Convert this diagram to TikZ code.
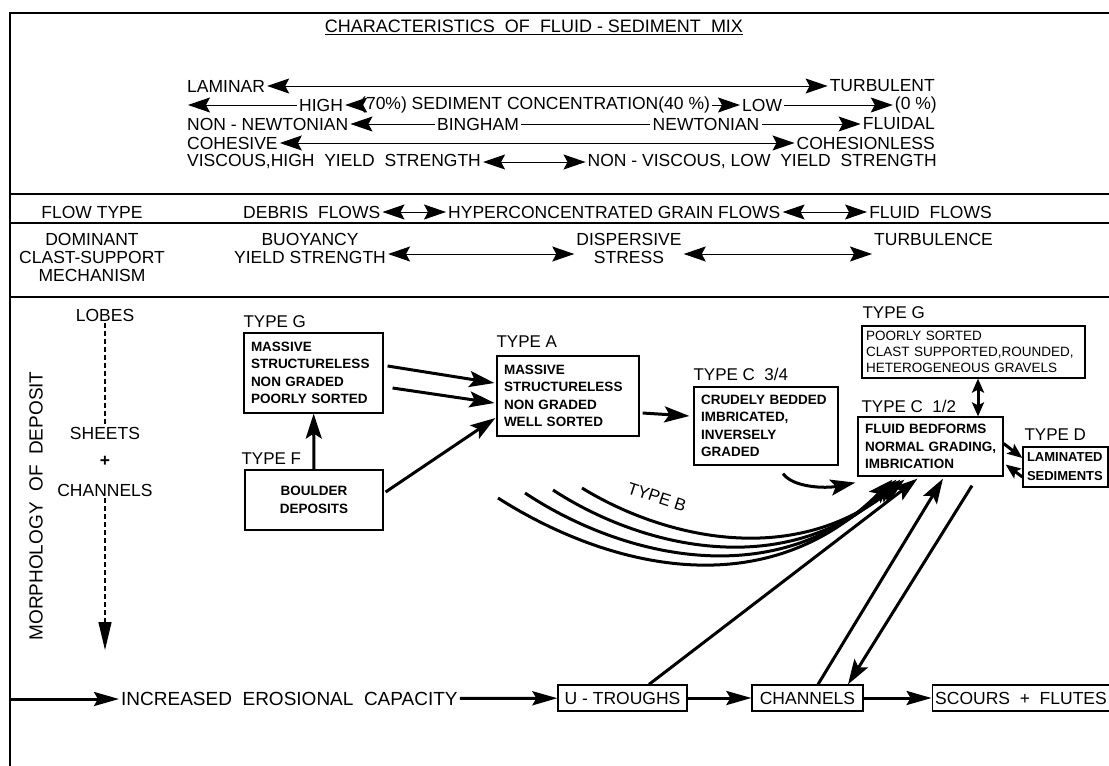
\documentclass[tikz,border=0pt]{standalone}
\usepackage{fontspec}
\setmainfont{Liberation Sans}
\usetikzlibrary{positioning, calc, arrows.meta}
\hyphenpenalty=10000
\exhyphenpenalty=10000

\begin{document}
\begin{tikzpicture}[
    x=1pt, y=-1pt,
    txt/.style={
        font=\fontsize{17.5}{18}\selectfont,
        inner sep=2pt
    },
    typelbl/.style={
        font=\fontsize{17}{18}\selectfont,
        inner sep=0pt,
        anchor=base west
    },
    depbox/.style={
        draw,
        line width=1.2pt,
        font=\bfseries\fontsize{13.5}{17.5}\selectfont,
        align=left,
        inner xsep=7pt
    },
    erobox/.style={
        draw,
        line width=1.2pt,
        font=\fontsize{17.5}{18}\selectfont,
        minimum height=26pt,
        inner xsep=3pt
    },
    thinarr/.style={
        -{Stealth[length=22pt, width=15pt, inset=4pt]},
        line width=1pt
    },
    bothways/.style={
        {Stealth[length=22pt, width=15pt, inset=4pt]}-{Stealth[length=22pt, width=15pt, inset=4pt]},
        line width=1pt
    },
    heavy/.style={
        -{Stealth[length=25pt, width=16pt, inset=5pt]},
        line width=3pt
    },
    shortheavy/.style={
        -{Stealth[length=15pt, width=12pt, inset=3pt]},
        line width=3pt
    },
    heavyboth/.style={
        {Stealth[length=14pt, width=12pt, inset=3pt]}-{Stealth[length=14pt, width=12pt, inset=3pt]},
        line width=3pt
    },
    erosarr/.style={
        -{Stealth[length=25pt, width=14pt, inset=4pt]},
        line width=3pt
    },
    dashline/.style={
        dash pattern=on 5pt off 3pt,
        line width=1.2pt
    },
    dasharr/.style={
        dashline,
        -{Triangle[length=28pt, width=13pt]}
    }
]
\useasboundingbox (0,0) rectangle (1109,766);

% Frame and section rules
\draw[line width=2pt] (1109,13) -- (10,13) -- (10,766);
\foreach \yy in {194,223,297}
    \draw[line width=1.5pt] (10,\yy) -- (1109,\yy);

% Characteristics of the mix
\node[txt, font=\fontsize{18}{18}\selectfont] (title) at (534,27)
    {\underline{CHARACTERISTICS~~OF~~FLUID - SEDIMENT~~MIX}};

\node[txt, anchor=west] (laminar) at (185,86) {LAMINAR};
\node[txt, anchor=east] (turbulent) at (937,86) {TURBULENT};
\draw[bothways] (laminar) -- (turbulent);

\coordinate (hightip) at (188,105);
\node[txt, anchor=west] (high) at (297,105) {HIGH};
\node[txt, anchor=west] (conc) at (358,105) {(70\%) SEDIMENT CONCENTRATION(40~\%)};
\node[txt, anchor=west] (low) at (740,105) {LOW};
\node[txt, anchor=east] (zero) at (939,105) {(0~\%)};
\draw[thinarr] (high) -- (hightip);
\draw[thinarr] (conc) -- (high);
\draw[thinarr] (conc) -- (low);
\draw[thinarr] (low) -- (zero);

\node[txt, anchor=west] (nonnewt) at (185,124) {NON - NEWTONIAN};
\node[txt] (bingham) at (478,124) {BINGHAM};
\node[txt] (newt) at (706,124) {NEWTONIAN};
\node[txt, anchor=east] (fluidal) at (937,124) {FLUIDAL};
\draw[thinarr] (bingham) -- (nonnewt);
\draw[line width=1pt] (bingham) -- (newt);
\draw[thinarr] (newt) -- (fluidal);

\node[txt, anchor=west] (cohesive) at (185,143) {COHESIVE};
\node[txt, anchor=east] (cohesionless) at (937,143) {COHESIONLESS};
\draw[bothways] (cohesive) -- (cohesionless);

\node[txt, anchor=west] (viscous) at (185,162) {VISCOUS,HIGH~~YIELD~~STRENGTH};
\node[txt, anchor=east] (nonviscous) at (939,162) {NON - VISCOUS, LOW~~YIELD~~STRENGTH};
\draw[bothways] (viscous) -- (nonviscous);

% Flow type
\node[txt] (flowtype) at (92,212) {FLOW TYPE};
\node[txt, anchor=west] (debris) at (241,212) {DEBRIS~~FLOWS};
\node[txt, anchor=west] (hyper) at (446,212) {HYPERCONCENTRATED GRAIN FLOWS};
\node[txt, anchor=east] (fluidflows) at (994,212) {FLUID~~FLOWS};
\draw[bothways] (debris) -- (hyper);
\draw[bothways] (hyper) -- (fluidflows);

% Clast-support mechanism
\node[txt, align=center] (mech) at (92,257) {DOMINANT\\CLAST-SUPPORT\\MECHANISM};
\node[txt, align=center] (buoy) at (310,248) {BUOYANCY\\YIELD STRENGTH};
\node[txt, align=center] (disp) at (629,248) {DISPERSIVE\\STRESS};
\node[txt, anchor=west] (turbulence) at (872,239) {TURBULENCE};
\coordinate (buoyarr) at ([yshift=-6pt]buoy.east);
\draw[bothways] (buoyarr) -- (buoyarr -| disp.west);
\coordinate (disparr) at ([yshift=-6pt]disp.east);
\draw[bothways] (disparr) -- (disparr -| turbulence.west);

% Morphology of deposit
\node[txt, font=\fontsize{19}{20}\selectfont, rotate=90] (morph) at (36,506) {MORPHOLOGY~~OF~~DEPOSIT};
\node[txt] (lobes) at (105,315) {LOBES};
\node[txt] (sheets) at (105,433) {SHEETS};
\node[txt] (plus) at (105,461) {\textbf{+}};
\node[txt] (chanleft) at (105,490) {CHANNELS};
\coordinate (morphend) at (105,650);
\draw[dashline] (lobes) -- (sheets);
\draw[dasharr] (chanleft) -- (morphend);

% Deposit types
\node[depbox, text width=125pt, minimum height=80pt] (g1) at (313.5,373)
    {MASSIVE\\STRUCTURELESS\\NON GRADED\\POORLY SORTED};
\node[depbox, align=center, text width=124pt, minimum height=60pt] (tf) at (314,500)
    {BOULDER\\DEPOSITS};
\node[depbox, text width=128pt, minimum height=80pt] (ta) at (568,396)
    {MASSIVE\\STRUCTURELESS\\NON GRADED\\WELL SORTED};
\node[depbox, text width=130pt, minimum height=78pt] (tc34) at (766,426)
    {CRUDELY BEDDED\\IMBRICATED,\\INVERSELY\\GRADED};
\node[depbox, font=\fontsize{13.5}{16}\selectfont, inner xsep=4pt, text width=215pt, minimum height=52pt] (g2) at (973.5,352)
    {POORLY SORTED\\CLAST SUPPORTED,ROUNDED,\\HETEROGENEOUS GRAVELS};
\node[depbox, inner xsep=4pt, text width=137pt, minimum height=59pt] (tc12) at (930.5,446.5)
    {\hspace*{3pt}FLUID BEDFORMS\\\hspace*{3pt}NORMAL GRADING,\\\hspace*{3pt}IMBRICATION};
\node[depbox, font=\bfseries\fontsize{13}{19}\selectfont, inner xsep=4pt, text width=77pt, minimum height=40pt] (td) at (1065.5,467)
    {LAMINATED\\SEDIMENTS};

\node[typelbl] (lblg1) at ([yshift=5pt]g1.north west) {TYPE G};
\node[typelbl] (lblf) at ([xshift=-3pt,yshift=5pt]tf.north west) {TYPE F};
\node[typelbl] (lbla) at ([yshift=8pt]ta.north west) {TYPE A};
\node[typelbl] (lblc34) at ([yshift=6pt]tc34.north west) {TYPE C~~3/4};
\node[typelbl] (lblg2) at ([xshift=1pt,yshift=7pt]g2.north west) {TYPE G};
\node[typelbl] (lblc12) at ([xshift=4pt,yshift=4pt]tc12.north west) {TYPE C~~1/2};
\node[typelbl] (lbld) at ([xshift=2pt,yshift=6pt]td.north west) {TYPE D};
\node[typelbl, anchor=center, rotate=-18] (lblb) at (657,497) {TYPE B};

\draw[heavy] (tf) -- (g1);
\draw[heavy] ([xshift=4pt,yshift=7pt]g1.east) -- ([xshift=-2pt,yshift=13pt]ta.west);
\draw[heavy] ([xshift=9pt,yshift=-15pt]g1.east) -- ([xshift=-2pt,yshift=-7pt]ta.west);
\draw[heavy] ([xshift=2pt,yshift=8pt]tf.east) -- ([xshift=-1pt,yshift=-22pt]ta.west);
\draw[heavy] ([xshift=3pt,yshift=-17pt]ta.east) -- ([xshift=-4pt,yshift=10pt]tc34.west);
\draw[heavy] ([xshift=17pt,yshift=-8pt]tc34.south) .. controls +(10,14) and +(-30,6) .. ([xshift=-2pt,yshift=-6pt]tc12.south west);
\draw[heavyboth] ([xshift=4.5pt]g2.south) -- ([xshift=47.5pt]tc12.north);
\draw[shortheavy] ([yshift=3pt]tc12.east) -- ([yshift=9pt]td.west);
\draw[shortheavy] ([yshift=-10pt]td.west) -- ([xshift=2pt,yshift=-18pt]tc12.east);

% Type B: sweeping paths into C 1/2
\foreach \k/\sx/\sy/\ax/\ay/\bx/\by/\ex in {0/498/498/598/562/760/612/-38,
    1/525/493/615/553/770/598/-34,
    2/553/490/637/545/780/584/-30,
    3/582/488/660/536/790/570/-26} {
    \coordinate (bstart\k) at (\sx,\sy);
    \draw[heavy] (bstart\k) .. controls (\ax,\ay) and (\bx,\by) .. ([xshift=\ex pt, yshift=-3pt]tc12.south);
}

% Increased erosional capacity
\coordinate (erostart) at (10,699);
\node[txt, font=\fontsize{19}{20}\selectfont, anchor=west] (eros) at (119,699) {INCREASED~~EROSIONAL~~CAPACITY};
\node[erobox, minimum width=129pt] (utroughs) at (622.5,698) {U - TROUGHS};
\node[erobox, minimum width=111pt] (channels) at (807.5,698) {CHANNELS};
\node[erobox, minimum width=174pt] (scours) at (1021,698) {SCOURS~~+~~FLUTES};
\draw[erosarr] (erostart) -- (eros);
\draw[erosarr] (eros) -- (utroughs);
\draw[erosarr] (utroughs) -- (channels);
\draw[erosarr] (channels) -- (scours);

\draw[heavy] ([xshift=26.5pt]utroughs.north) -- ([xshift=-13pt,yshift=-2pt]tc12.south);
\draw[heavy] ([xshift=10.5pt]channels.north) -- ([xshift=12.5pt,yshift=-2pt]tc12.south);
\draw[heavy] ([xshift=41.5pt,yshift=-9pt]tc12.south) -- ([xshift=40.5pt]channels.north);

\end{tikzpicture}
\end{document}
